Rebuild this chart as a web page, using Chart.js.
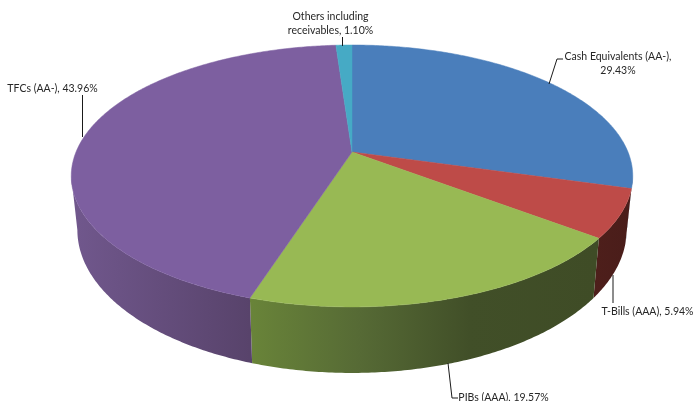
<!DOCTYPE html>
<html>
<head>
<meta charset="utf-8">
<style>
    html, body { margin: 0; padding: 0; background: #fff; overflow: hidden; }
    canvas { display: block; }
</style>
<script src="https://cdn.jsdelivr.net/npm/chart.js@4/dist/chart.umd.js"></script>
</head>
<body>
<canvas id="pieChart" width="694" height="401"></canvas>
<script>
    // values
    const categories = ['Cash Equivalents (AA-)', 'T-Bills (AAA)', 'PIBs (AAA)', 'TFCs (AA-)', 'Others including receivables'];
    const shares = [29.43, 5.94, 19.57, 43.96, 1.10];

    const topColors = ['#4a7ebb', '#be4b48', '#98b954', '#7d5fa0', '#46aac5'];

    // wall shading, [x on the page, colour] for each slice
    const wallShades = [
        [[600, '#2e4c72'], [640, '#2e4c72']],
        [[590, '#4e1f1b'], [630, '#4a1d1a']],
        [[250, '#698439'], [360, '#566a35'], [470, '#414f28'], [595, '#3f4c26']],
        [[77, '#70578c'], [250, '#58436b']],
        [[340, '#2a6a7c'], [360, '#2a6a7c']]
    ];

    // where the text goes: centre x, baseline y of first line, line after which to break
    const labelSpots = [
        { x: 618, y: 60, breakAfter: 'Cash Equivalents (AA-),', leader: [[549, 84], [557, 59], [563, 59]] },
        { x: 647.5, y: 315, breakAfter: null, leader: [[613, 275], [613, 303]] },
        { x: 503.5, y: 401, breakAfter: null, leader: [[448, 363], [452, 398], [458, 398]] },
        { x: 52.5, y: 92, breakAfter: null, leader: [[82.5, 95], [82.5, 137]] },
        { x: 330.5, y: 20, breakAfter: 'Others including', leader: [[342.5, 37], [342.5, 46]] }
    ];

    // circle on the tilted plate -> page, top face and bottom rim of the pie
    const topRim = { cx: 352, cy: 152, qx: 276, py: 98.76, k: -0.183 };
    const bottomRim = { cx: 352, cy: 203.7, qx: 270, py: 101, k: -0.183 };

    // rim is widest on the page here, the wall outline runs between these two
    const wallFrom = Math.asin(0.183);
    const wallTo = Math.PI - wallFrom;

    function project(angle, plate) {
        const u = Math.cos(angle);
        const v = Math.sin(angle);
        const w = 1 + plate.k * v;
        return [plate.cx + plate.qx * u / w, (plate.cy + plate.py * v) / w];
    }

    function rimPoints(start, end, plate) {
        const pts = [];
        const steps = Math.max(2, Math.ceil((end - start) / 0.01));
        for (let i = 0; i <= steps; i++) {
            pts.push(project(start + (end - start) * i / steps, plate));
        }
        return pts;
    }

    function tracePath(ctx, pts) {
        ctx.beginPath();
        pts.forEach(function (p, i) {
            if (i === 0) ctx.moveTo(p[0], p[1]);
            else ctx.lineTo(p[0], p[1]);
        });
        ctx.closePath();
    }

    function drawWall(ctx, arc, index) {
        // only the part of the rim that faces the viewer
        const start = Math.max(arc.startAngle, wallFrom);
        const end = Math.min(arc.endAngle, wallTo);
        if (end <= start) return;

        const stops = wallShades[index];
        const x0 = stops[0][0];
        const x1 = stops[stops.length - 1][0];
        const grad = ctx.createLinearGradient(x0, 0, x1, 0);
        stops.forEach(function (s) {
            grad.addColorStop((s[0] - x0) / (x1 - x0), s[1]);
        });

        const pts = rimPoints(start, end, topRim).concat(rimPoints(start, end, bottomRim).reverse());
        tracePath(ctx, pts);
        ctx.fillStyle = grad;
        ctx.fill();
    }

    function drawFace(ctx, arc, index) {
        const pts = [[topRim.cx, topRim.cy]].concat(rimPoints(arc.startAngle, arc.endAngle, topRim));
        tracePath(ctx, pts);
        ctx.fillStyle = topColors[index];
        ctx.strokeStyle = topColors[index];
        ctx.lineWidth = 0.5;
        ctx.fill();
        ctx.stroke();
    }

    function drawLabel(ctx, index) {
        const spot = labelSpots[index];
        const text = categories[index] + ', ' + shares[index].toFixed(2) + '%';
        let lines = [text];
        if (spot.breakAfter) {
            const cut = spot.breakAfter.length;
            lines = [text.slice(0, cut), text.slice(cut).trim()];
        }

        ctx.strokeStyle = '#1a1a1a';
        ctx.lineWidth = 1;
        ctx.beginPath();
        spot.leader.forEach(function (p, i) {
            if (i === 0) ctx.moveTo(p[0], p[1]);
            else ctx.lineTo(p[0], p[1]);
        });
        ctx.stroke();

        ctx.fillStyle = '#262626';
        ctx.font = '10.5px Lato';
        ctx.textAlign = 'center';
        ctx.textBaseline = 'alphabetic';
        lines.forEach(function (line, i) {
            ctx.fillText(line, spot.x, spot.y + i * 13.5);
        });
    }

    // Chart.js has no 3D pie, so the arcs it lays out get drawn on a tilted plate
    const tiltedPie = {
        id: 'tiltedPie',
        beforeDatasetsDraw: function (chart) {
            const ctx = chart.ctx;
            const arcs = chart.getDatasetMeta(0).data;
            ctx.save();
            arcs.forEach(function (arc, i) { drawWall(ctx, arc, i); });
            arcs.forEach(function (arc, i) { drawFace(ctx, arc, i); });
            arcs.forEach(function (arc, i) { drawLabel(ctx, i); });
            ctx.restore();
            return false;
        }
    };

    const pieCtx = document.getElementById('pieChart').getContext('2d');

    new Chart(pieCtx, {
        type: 'pie',
        data: {
            labels: categories,
            datasets: [{
                data: shares,
                backgroundColor: topColors
            }]
        },
        options: {
            responsive: false,
            animation: false,
            rotation: 0,
            plugins: {
                legend: { display: false },
                tooltip: { enabled: false }
            }
        },
        plugins: [tiltedPie]
    });
</script>
</body>
</html>
